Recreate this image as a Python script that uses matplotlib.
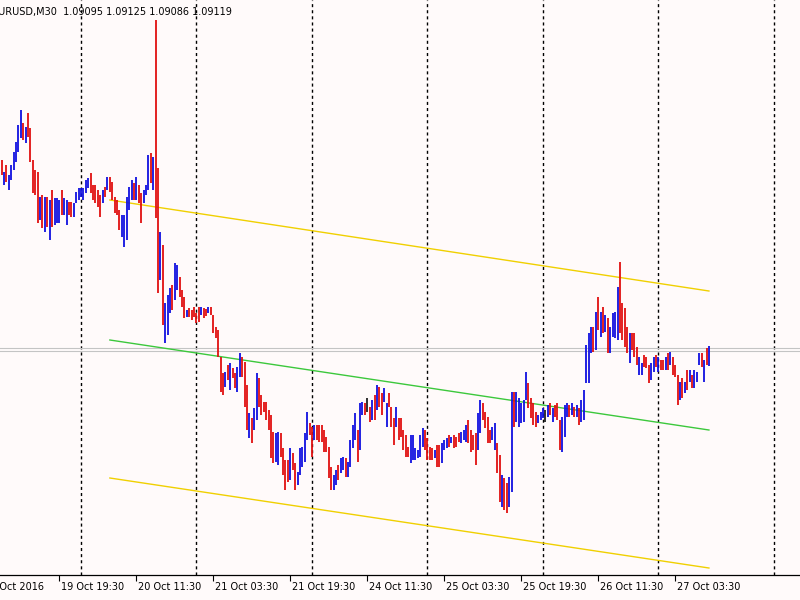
import numpy as np
import matplotlib
matplotlib.use("Agg")
import matplotlib.pyplot as plt

# ---------------- data ----------------
symbol_title = "EURUSD,M30  1.09095 1.09125 1.09086 1.09119"
first_bar = 15          # bar number counted from 19 Oct 2016 00:00 (M30 bars)
bid_price = 1.09119

highs = [
    1.09497,1.09473,1.09487,1.09467,1.09487,1.09513,1.09533,1.09567,1.09597,1.09571,
    1.09563,1.09591,1.09561,1.09497,1.09477,1.09473,1.09423,1.09427,1.09423,1.09423,
    1.09417,1.09437,1.09421,1.09421,1.09417,1.09437,1.09421,1.09417,1.09413,1.09413,
    1.09411,1.09433,1.09441,1.09441,1.09441,1.09457,1.09461,1.09471,1.09447,1.09447,
    1.09437,1.09427,1.09437,1.09443,1.09463,1.09463,1.09453,1.09423,1.09417,1.09397,
    1.09387,1.09387,1.09423,1.09443,1.09457,1.09451,1.09463,1.09447,1.09431,1.09437,
    1.09447,1.09507,1.09511,1.09503,1.09777,1.09481,1.09353,1.09327,1.09211,1.09227,
    1.09241,1.09247,1.09291,1.09287,1.09263,1.09237,1.09223,1.09197,1.09201,1.09197,
    1.09203,1.09191,1.09203,1.09203,1.09201,1.09199,1.09203,1.09203,1.09187,1.09163,
    1.09157,1.09103,1.09071,1.09073,1.09087,1.09091,1.09081,1.09071,1.09083,1.09111,
    1.09103,1.09093,1.09047,1.08991,1.08981,1.09001,1.09071,1.09061,1.09027,1.09013,
    1.09013,1.08997,1.08987,1.08953,1.08951,1.08953,1.08951,1.08921,1.08897,1.08897,
    1.08921,1.08911,1.08891,1.08873,1.08921,1.08923,1.08951,1.08993,1.08971,1.08963,
    1.08967,1.08967,1.08967,1.08967,1.08957,1.08943,1.08923,1.08883,1.08867,1.08877,
    1.08887,1.08901,1.08903,1.08901,1.08893,1.08937,1.08967,1.08991,1.08957,1.09011,
    1.09013,1.09011,1.09021,1.09003,1.09017,1.09027,1.09047,1.09043,1.09031,1.09041,
    1.09011,1.09031,1.09003,1.08981,1.09003,1.08981,1.08981,1.08957,1.08947,1.08923,
    1.08947,1.08947,1.08921,1.08917,1.08947,1.08961,1.08957,1.08941,1.08923,1.08921,
    1.08917,1.08927,1.08927,1.08931,1.08937,1.08941,1.08947,1.08943,1.08947,1.08943,
    1.08951,1.08953,1.08957,1.08967,1.08977,1.08957,1.08947,1.08951,1.08991,1.09017,
    1.09011,1.08993,1.08983,1.08957,1.08963,1.08971,1.08931,1.08907,1.08867,1.08861,
    1.08851,1.08863,1.09033,1.09033,1.09033,1.09021,1.09011,1.09017,1.09073,1.09051,
    1.09021,1.09011,1.08993,1.08987,1.08993,1.09001,1.08997,1.09007,1.09011,1.09001,
    1.09007,1.09011,1.08977,1.08983,1.09007,1.09011,1.09007,1.09011,1.09003,1.09007,
    1.09001,1.09017,1.09037,1.09127,1.09151,1.09163,1.09163,1.09193,1.09223,1.09193,
    1.09203,1.09187,1.09181,1.09163,1.09191,1.09193,1.09243,1.09293,1.09211,1.09201,
    1.09163,1.09151,1.09151,1.09151,1.09123,1.09103,1.09091,1.09107,1.09103,1.09087,
    1.09091,1.09103,1.09107,1.09103,1.09097,1.09097,1.09103,1.09111,1.09113,1.09103,
    1.09087,1.09067,1.09053,1.09061,1.09053,1.09077,1.09077,1.09067,1.09077,1.09073,
    1.09111,1.09111,1.09097,1.09121,1.09125,
]

lows = [
    1.09467,1.09447,1.09453,1.09437,1.09457,1.09477,1.09493,1.09513,1.09541,1.09537,
    1.09531,1.09543,1.09493,1.09431,1.09427,1.09371,1.09377,1.09361,1.09353,1.09363,
    1.09337,1.09363,1.09367,1.09371,1.09371,1.09387,1.09387,1.09367,1.09387,1.09383,
    1.09383,1.09411,1.09417,1.09423,1.09417,1.09431,1.09441,1.09431,1.09417,1.09411,
    1.09403,1.09383,1.09411,1.09423,1.09437,1.09433,1.09417,1.09391,1.09387,1.09357,
    1.09343,1.09323,1.09337,1.09397,1.09417,1.09417,1.09417,1.09411,1.09371,1.09411,
    1.09427,1.09437,1.09451,1.09437,1.09381,1.09231,1.09257,1.09167,1.09131,1.09147,
    1.09191,1.09197,1.09217,1.09237,1.09223,1.09203,1.09181,1.09183,1.09183,1.09177,
    1.09183,1.09171,1.09173,1.09187,1.09181,1.09185,1.09191,1.09187,1.09151,1.09141,
    1.09103,1.09033,1.09027,1.09043,1.09057,1.09037,1.09061,1.09041,1.09033,1.09063,
    1.09063,1.09003,1.08957,1.08941,1.08931,1.08957,1.08977,1.09003,1.08987,1.08993,
    1.08977,1.08957,1.08901,1.08891,1.08893,1.08887,1.08903,1.08867,1.08837,1.08853,
    1.08857,1.08877,1.08837,1.08847,1.08867,1.08883,1.08893,1.08937,1.08947,1.08903,
    1.08937,1.08937,1.08933,1.08933,1.08913,1.08913,1.08861,1.08837,1.08837,1.08847,
    1.08857,1.08871,1.08877,1.08863,1.08863,1.08883,1.08921,1.08937,1.08893,1.08917,
    1.08987,1.08987,1.08993,1.08973,1.08977,1.08977,1.08997,1.09003,1.08987,1.09013,
    1.08963,1.09003,1.08963,1.08927,1.08963,1.08937,1.08943,1.08917,1.08903,1.08903,
    1.08891,1.08897,1.08897,1.08901,1.08903,1.08923,1.08917,1.08897,1.08897,1.08897,
    1.08901,1.08883,1.08883,1.08891,1.08917,1.08921,1.08923,1.08931,1.08921,1.08923,
    1.08933,1.08931,1.08937,1.08933,1.08931,1.08913,1.08917,1.08887,1.08917,1.08951,
    1.08977,1.08961,1.08931,1.08931,1.08937,1.08917,1.08871,1.08813,1.08803,1.08797,
    1.08791,1.08803,1.08833,1.08963,1.08973,1.08963,1.08971,1.08973,1.09017,1.09001,
    1.08981,1.08967,1.08963,1.08971,1.08977,1.08981,1.08973,1.08983,1.08987,1.08973,
    1.08983,1.08977,1.08917,1.08913,1.08943,1.08983,1.08983,1.08987,1.08983,1.08983,
    1.08967,1.08973,1.08977,1.09051,1.09051,1.09111,1.09113,1.09117,1.09157,1.09143,
    1.09151,1.09153,1.09111,1.09111,1.09143,1.09141,1.09137,1.09151,1.09137,1.09123,
    1.09111,1.09091,1.09117,1.09103,1.09087,1.09067,1.09067,1.09083,1.09081,1.09051,
    1.09057,1.09073,1.09083,1.09073,1.09077,1.09077,1.09077,1.09077,1.09087,1.09067,
    1.09063,1.09007,1.09017,1.09021,1.09031,1.09037,1.09053,1.09041,1.09041,1.09053,
    1.09087,1.09083,1.09053,1.09087,1.09086,
]

# bar direction: B = up (blue), R = down (red), K = unchanged
directions = (
    "RBRBBBBBBR" "BRRRRRBRBR" "BRBBBRBBRR" "BBBBBBBRRR" "RRBRBRRRRR"
    "BBBBBRBRRB" "BBRBRRBRBB" "BRBBRRRBRR" "RRRBRRBRRR" "RRRBRBRRBB"
    "RRRBRBBRRR" "RRRRBBRRRR" "BRRBBBBBRR" "BRRRRRRRBB" "RBBRBBBBRB"
    "BRKRBRBRRB" "BRRRBRRRRR" "BBBBBBRRRR" "BRRBBBRBRR" "RBBBRRRRBB"
    "RRRRBBRRBR" "RBBRBBBBBR" "RRRBBBKBRB" "RRRBBBRBRB" "RBBBBBRBRB"
    "RBRBBBBRRR" "RBRRRBBRRR" "BBRBRRBRBR" "RRBRBRBRBB" "BRBRB"
)

# x-axis labels (bar numbers from 19 Oct 2016 00:00)
tick_bars = [7, 39, 71, 103, 135, 167, 199, 231, 263, 295]
tick_labels = ["19 Oct 2016", "19 Oct 19:30", "20 Oct 11:30", "21 Oct 03:30",
               "21 Oct 19:30", "24 Oct 11:30", "25 Oct 03:30", "25 Oct 19:30",
               "26 Oct 11:30", "27 Oct 03:30"]
day_separators = [48, 96, 144, 192, 240, 288, 336]

# standard deviation channel (start/end bar, prices)
channel_bars = [60, 309]
channel_upper = [1.09417, 1.09235]
channel_mid = [1.09137, 1.08957]
channel_lower = [1.08861, 1.08681]

# ---------------- drawing ----------------
bg = "#fffafa"
fig = plt.figure(figsize=(8, 6), dpi=100, facecolor=bg)
ax = fig.add_axes([0, 25 / 600, 1, 575 / 600], facecolor=bg)

n = len(highs)
bars = np.arange(first_bar, first_bar + n)
cmap = {"B": "#1010e0", "R": "#e01010", "K": "#202020"}
colors = [cmap[d] for d in directions]

x_lo, x_hi = 14.34, 346.85

# separators
for s in day_separators:
    ax.axvline(s, color="black", lw=1.0, ls=(0, (2.2, 2.2)), zorder=1)

# bid line
ax.axhline(bid_price + 0.00002, color="#c4c4c4", lw=0.8, zorder=1)
ax.axhline(bid_price - 0.00003, color="#c4c4c4", lw=0.8, zorder=1)

# channel
ax.plot(channel_bars, channel_upper, color="#f0d000", lw=1.0, zorder=2)
ax.plot(channel_bars, channel_lower, color="#f0d000", lw=1.0, zorder=2)
ax.plot(channel_bars, channel_mid, color="#3cc83c", lw=1.0, zorder=2)

# bars
ax.vlines(bars, lows, highs, colors=colors, lw=1.3, zorder=3)

for sp in ["top", "left", "right"]:
    ax.spines[sp].set_visible(False)
ax.spines["bottom"].set_color("black")
ax.spines["bottom"].set_linewidth(0.9)
ax.set_yticks([])
ax.set_xticks([b for b in tick_bars if x_lo <= b <= x_hi])
ax.tick_params(axis="x", direction="out", length=4, width=0.8, color="black",
               labelbottom=False)
ax.set_xlim(x_lo, x_hi)
ax.set_ylim(1.08667, 1.09817)

for b, lbl in zip(tick_bars, tick_labels):
    ax.annotate(lbl, xy=(b, 0), xycoords=("data", "axes fraction"),
                xytext=(1.0, -8.6), textcoords="offset points",
                ha="left", va="center", fontsize=7, family="DejaVu Sans",
                color="black", annotation_clip=False)

fig.text(-8 / 800, 1 - 12 / 600, symbol_title, fontsize=7,
         family="DejaVu Sans", va="center", ha="left", color="black")

fig.savefig("out.png", dpi=100, facecolor=bg)
